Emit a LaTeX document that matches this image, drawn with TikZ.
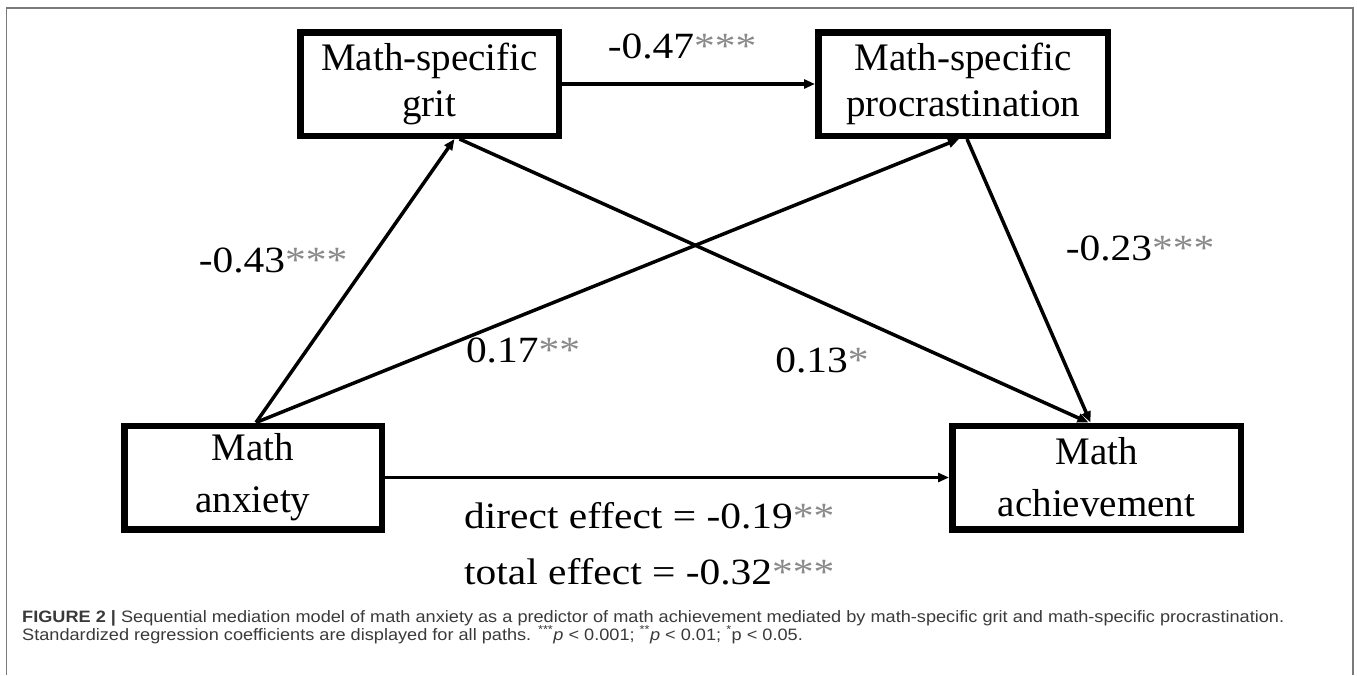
\documentclass[tikz,border=0pt]{standalone}
\usepackage{fontspec}
\setmainfont{Liberation Serif}
\newfontfamily\labelfont[FakeStretch=1.12]{Liberation Serif}
\newfontfamily\captionfont[FakeStretch=1.1]{Liberation Sans}
\usetikzlibrary{arrows.meta}
\definecolor{FrameGray}{HTML}{7A7A7A}
\definecolor{StarGray}{HTML}{8A8A8A}
\definecolor{CaptionGray}{HTML}{3A3A3A}
\newcommand{\stars}[1]{\textcolor{StarGray}{#1}}

\begin{document}
\begin{tikzpicture}[x=1pt,y=-1pt,
  var/.style={draw,line width=6.5pt,align=center,inner sep=0pt,font=\fontsize{39}{46}\selectfont},
  link/.style={-{Triangle[length=11pt,width=9pt]},line width=3.5pt},
  coef/.style={anchor=base,inner sep=0pt,font=\labelfont\fontsize{37}{44}\selectfont}]
  \useasboundingbox (0,0) rectangle (1357,675);
  % frame
  \draw[FrameGray,line width=1.5pt] (6.5,675) |- (1353,8) -- (1353,675);
  % variables
  \node[var,minimum width=258.5pt,minimum height=103.5pt] (grit) at (429.5,84) {Math-specific\\grit};
  \node[var,minimum width=289.5pt,minimum height=103.5pt] (proc) at (963,84) {Math-specific\\procrastination};
  \node[var,minimum width=257.5pt,minimum height=103.5pt,font=\fontsize{39}{52}\selectfont] (anx) at (253,477.5) {Math\\anxiety};
  \node[var,minimum width=288.5pt,minimum height=103.5pt,font=\fontsize{39}{52}\selectfont] (ach) at (1096.5,477.5) {Math\\achievement};
  % paths
  \draw[link] (grit) -- (proc);
  \draw[link] ([xshift=3pt]anx.north) -- ([xshift=25pt]grit.south);
  \draw[link] ([xshift=3pt]anx.north) -- ([xshift=-4pt]proc.south);
  \draw[link] ([xshift=30pt]grit.south) -- ([xshift=-8pt]ach.north);
  \draw[link] ([xshift=4pt]proc.south) -- ([xshift=-6pt]ach.north);
  \draw[link] (anx) -- (ach);
  % coefficients
  \node[coef] (c47) at (682,58) {-0.47\stars{***}};
  \node[coef] (c43) at (273,272) {-0.43\stars{***}};
  \node[coef] (c23) at (1140,260) {-0.23\stars{***}};
  \node[coef] (c17) at (523,362) {0.17\stars{**}};
  \node[coef] (c13) at (822,372) {0.13\stars{*}};
  \node[coef,anchor=base west] (direct) at (464,528) {direct effect = -0.19\stars{**}};
  \node[coef,anchor=base west] (total) at (464,584) {total effect = -0.32\stars{***}};
  % caption
  \node[anchor=base west,inner sep=0pt,align=left,text=CaptionGray,font=\captionfont\fontsize{16.5}{18}\selectfont] (caption) at (22,640)
    {\textbf{FIGURE 2 |} Sequential mediation model of math anxiety as a predictor of math achievement mediated by math-specific grit and math-specific procrastination.\\
     Standardized regression coefficients are displayed for all paths. \textsuperscript{***}\textit{p} < 0.001; \textsuperscript{**}\textit{p} < 0.01; \textsuperscript{*}p < 0.05.};
\end{tikzpicture}
\end{document}
